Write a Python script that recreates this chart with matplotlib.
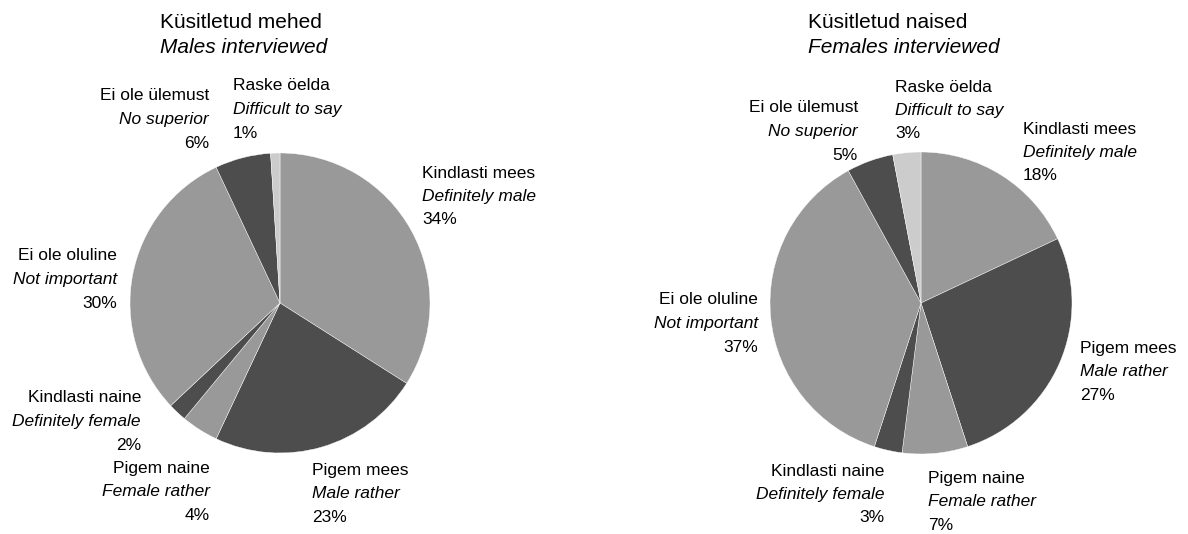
import matplotlib
matplotlib.use("Agg")
import matplotlib.pyplot as plt

plt.rcParams["font.family"] = ["Liberation Sans", "DejaVu Sans"]

# Answer categories (Estonian / English), in clockwise order from 12 o'clock
cats_et = ["Kindlasti mees", "Pigem mees", "Pigem naine", "Kindlasti naine",
           "Ei ole oluline", "Ei ole ülemust", "Raske öelda"]
cats_en = ["Definitely male", "Male rather", "Female rather", "Definitely female",
           "Not important", "No superior", "Difficult to say"]

males = [34, 23, 4, 2, 30, 6, 1]
females = [18, 27, 7, 3, 37, 5, 3]

titles_et = ["Küsitletud mehed", "Küsitletud naised"]
titles_en = ["Males interviewed", "Females interviewed"]

slice_colors = ["#999999", "#4d4d4d", "#999999", "#4d4d4d",
                "#999999", "#4d4d4d", "#cccccc"]

W, H = 1188, 534
fig = plt.figure(figsize=(W / 100, H / 100), dpi=100)
ax = fig.add_axes([0, 0, 1, 1])

# Pie layout in pixel space (x from left, y from top)
pies = [
    dict(vals=males, cx=280, cy=303, r=150, title=(160, 22),
         labels=[(422, 173, "left"), (312, 470, "left"), (210, 468, "right"),
                 (141, 398, "right"), (117, 256, "right"), (209, 96, "right"),
                 (233, 86, "left")]),
    dict(vals=females, cx=921, cy=303, r=151, title=(808, 22),
         labels=[(1023, 129, "left"), (1080, 348, "left"), (928, 478, "left"),
                 (884, 471, "right"), (758, 300, "right"), (858, 108, "right"),
                 (895, 87, "left")]),
]

LABEL_FS = 12.5
LABEL_STEP = 23.5
TITLE_FS = 15
TITLE_STEP = 25.5


def fy(y):
    return H - y


for i, p in enumerate(pies):
    ax.pie(p["vals"], colors=slice_colors, startangle=90, counterclock=False,
           center=(p["cx"], fy(p["cy"])), radius=p["r"],
           wedgeprops=dict(edgecolor="white", linewidth=0.3))

    tx, ty = p["title"]
    ax.text(tx, fy(ty), titles_et[i], fontsize=TITLE_FS, ha="left", va="center")
    ax.text(tx, fy(ty + TITLE_STEP), titles_en[i], fontsize=TITLE_FS,
            style="italic", ha="left", va="center")

    for j, (lx, ly, ha) in enumerate(p["labels"]):
        ax.text(lx, fy(ly), cats_et[j], fontsize=LABEL_FS, ha=ha, va="center")
        ax.text(lx, fy(ly + LABEL_STEP), cats_en[j], fontsize=LABEL_FS,
                style="italic", ha=ha, va="center")
        ax.text(lx, fy(ly + 2 * LABEL_STEP), f"{p['vals'][j]}%",
                fontsize=LABEL_FS, ha=ha, va="center")

ax.set_xlim(0, W)
ax.set_ylim(0, H)
ax.set_aspect("equal")
ax.axis("off")

fig.savefig("out.png", dpi=100, facecolor="white")
